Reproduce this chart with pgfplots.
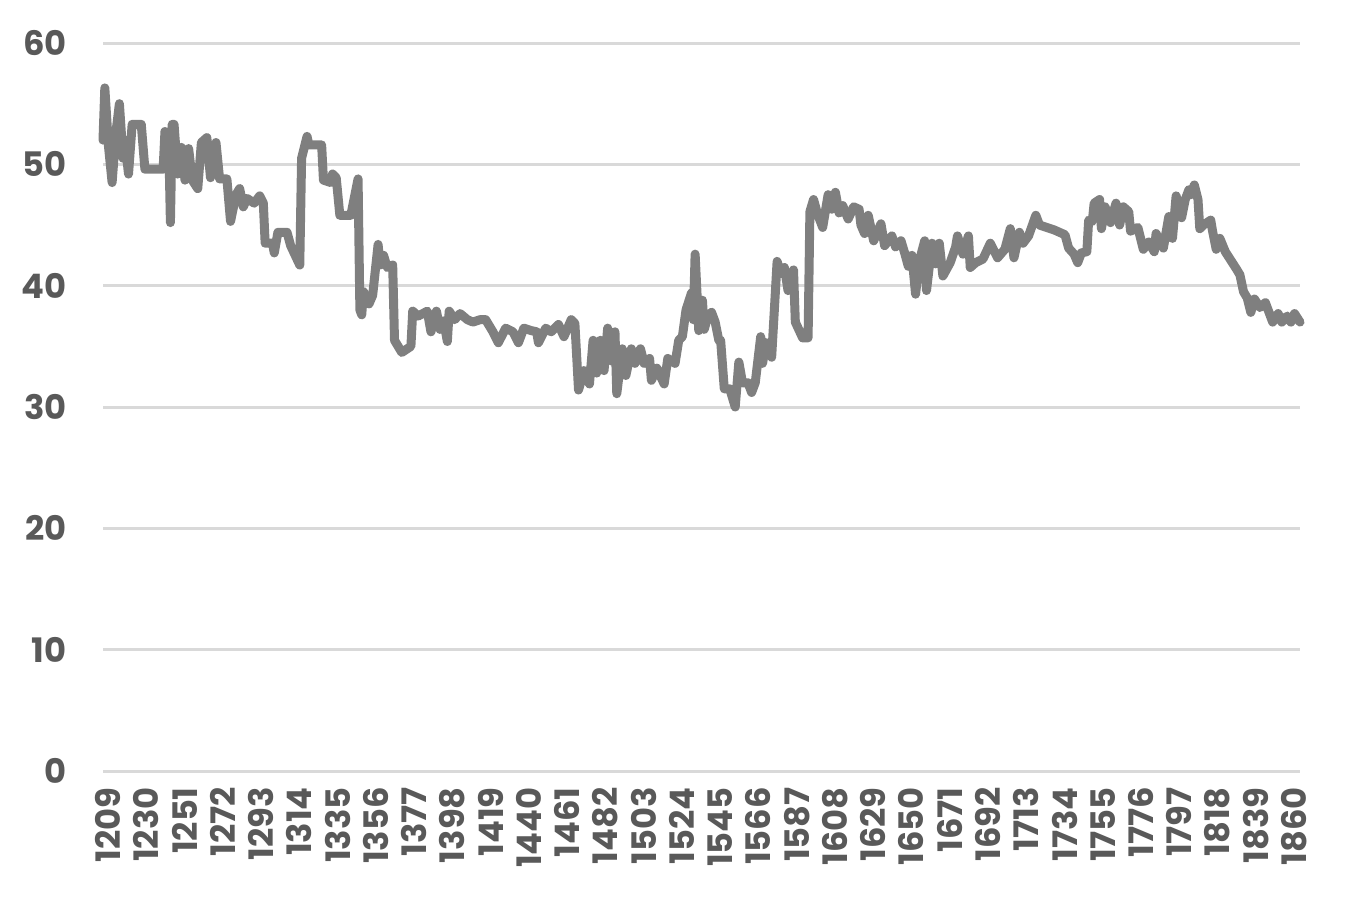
\documentclass[border=0pt]{standalone}
\usepackage{fontspec}
\setmainfont{Poppins}
\usepackage{pgfplots}
\pgfplotsset{compat=1.18}

\definecolor{linegray}{HTML}{7F7F7F}
\definecolor{gridgray}{HTML}{D9D9D9}
\definecolor{labelgray}{HTML}{595959}

\begin{document}
\begin{tikzpicture}
\begin{axis}[
    at={(0,0)}, anchor=south west,
    scale only axis,
    width=478.8pt, height=291.2pt,
    xmin=1209, xmax=1866,
    ymin=0, ymax=60,
    ytick={0,10,...,60},
    xtick={1209,1230,...,1860},
    axis line style={draw=none},
    major tick length=0pt,
    ymajorgrids,
    major grid style={gridgray, line width=1.2pt},
    /pgf/number format/assume math mode=true,
    /pgf/number format/1000 sep={},
    yticklabel style={font=\fontsize{13.5}{16}\selectfont\bfseries, text=labelgray, anchor=east, xshift=-11pt},
    xticklabel style={font=\fontsize{13.5}{16}\selectfont\bfseries, text=labelgray, rotate=90, anchor=east, xshift=-3pt, yshift=-2pt},
    clip=false,
]
\addplot[linegray, line width=3.6pt, line join=round, line cap=round] coordinates {
(1209,52.0) (1210,56.3) (1212,51.5) (1214,48.5) (1216,52.5) (1218,55.0)
(1220,50.5) (1221,52.0) (1223,49.2) (1225,53.3) (1230,53.3) (1232,49.6)
(1242,49.6) (1243,52.7) (1245,52.5) (1246,45.2) (1247,53.3) (1248,53.3)
(1250,49.2) (1252,51.4) (1254,48.7) (1256,51.3) (1258,48.7) (1261,48.0)
(1263,51.8) (1266,52.2) (1268,48.9) (1271,51.8) (1273,48.8) (1277,48.8)
(1279,45.3) (1282,47.5) (1284,48.0) (1286,46.5) (1288,47.2) (1292,46.8)
(1295,47.4) (1297,46.8) (1298,43.5) (1302,43.5) (1303,42.7) (1305,44.4)
(1310,44.4) (1312,43.3) (1317,41.7) (1318,50.5) (1321,52.3) (1322,51.6)
(1329,51.6) (1330,48.7) (1334,48.5) (1335,49.2) (1337,48.9) (1339,45.8)
(1345,45.8) (1349,48.8) (1350,38.0) (1351,37.6) (1352,39.5) (1355,38.5)
(1357,39.2) (1360,43.4) (1361,41.7) (1363,42.5) (1365,41.5) (1368,41.7)
(1369,35.5) (1373,34.5) (1378,35.0) (1379,37.9) (1382,37.5) (1387,37.9)
(1389,36.2) (1392,37.9) (1394,36.4) (1396,37.1) (1398,35.4) (1399,37.9)
(1402,37.2) (1405,37.7) (1409,37.2) (1412,37.0) (1416,37.2) (1419,37.2)
(1423,36.2) (1426,35.3) (1430,36.5) (1434,36.2) (1437,35.3) (1440,36.5)
(1444,36.3) (1447,36.2) (1448,35.3) (1452,36.5) (1455,36.2) (1459,36.8)
(1462,35.8) (1466,37.2) (1468,36.9) (1470,31.4) (1473,33.0) (1476,31.9)
(1478,35.5) (1480,32.8) (1482,35.5) (1484,33.0) (1486,36.5) (1488,33.8)
(1490,36.2) (1491,31.1) (1494,34.8) (1496,32.6) (1499,34.8) (1501,33.6)
(1504,34.8) (1506,33.6) (1509,34.0) (1510,32.2) (1513,33.2) (1517,31.9)
(1519,34.0) (1523,33.6) (1525,35.5) (1527,35.8) (1529,38.0) (1532,39.4)
(1533,37.2) (1534,42.6) (1536,36.3) (1538,38.8) (1539,36.4) (1541,37.5)
(1543,37.8) (1545,37.0) (1547,35.5) (1548,35.5) (1550,31.5) (1553,31.5)
(1556,30.0) (1558,33.7) (1560,32.0) (1563,32.0) (1565,31.2) (1567,32.0)
(1570,35.8) (1571,33.6) (1573,35.3) (1576,34.1) (1579,42.0) (1581,41.0)
(1583,41.5) (1585,39.6) (1588,41.3) (1589,37.0) (1593,35.7) (1596,35.7)
(1597,46.1) (1599,47.1) (1601,46.0) (1604,44.8) (1607,47.5) (1609,46.3)
(1611,47.7) (1613,46.0) (1615,46.6) (1618,45.5) (1621,46.5) (1624,46.3)
(1625,45.0) (1627,44.3) (1629,45.8) (1632,43.7) (1636,45.1) (1638,43.3)
(1642,44.1) (1644,43.2) (1647,43.7) (1649,42.7) (1651,41.6) (1653,42.5)
(1655,39.3) (1657,42.0) (1660,43.7) (1661,39.6) (1664,43.5) (1666,41.8)
(1668,43.5) (1670,40.8) (1674,41.9) (1677,43.2) (1678,44.1) (1681,42.6)
(1684,44.1) (1685,41.5) (1688,41.9) (1692,42.2) (1696,43.5) (1698,42.9)
(1700,42.3) (1704,43.0) (1707,44.7) (1709,42.3) (1712,44.4) (1714,43.5)
(1717,44.1) (1721,45.8) (1723,45.0) (1727,44.8) (1731,44.6) (1734,44.4)
(1737,44.2) (1739,43.1) (1742,42.6) (1744,41.9) (1746,42.7) (1749,42.8)
(1750,45.4) (1752,45.3) (1753,46.8) (1756,47.1) (1757,44.7) (1759,46.5)
(1762,45.2) (1765,46.8) (1767,45.0) (1769,46.5) (1772,46.1) (1773,44.5)
(1777,44.8) (1780,43.0) (1783,43.6) (1786,42.8) (1787,44.3) (1791,43.1)
(1794,45.7) (1796,43.9) (1798,47.4) (1801,45.6) (1803,47.1) (1805,47.9)
(1806,47.5) (1808,48.3) (1810,47.1) (1811,44.7) (1813,45.0) (1817,45.4)
(1818,44.5) (1820,43.0) (1822,43.9) (1825,42.8) (1828,42.1) (1831,41.4)
(1833,40.9) (1835,39.5) (1837,39.0) (1839,37.8) (1841,38.9) (1844,38.2)
(1847,38.6) (1849,37.8) (1851,37.0) (1854,37.7) (1856,37.0) (1859,37.5)
(1861,37.0) (1863,37.7) (1866,37.0)
};
\end{axis}
\pgfresetboundingbox
\path[use as bounding box] (-41.2pt,-51.6pt) rectangle (498.8pt,308.4pt);
\end{tikzpicture}
\end{document}
